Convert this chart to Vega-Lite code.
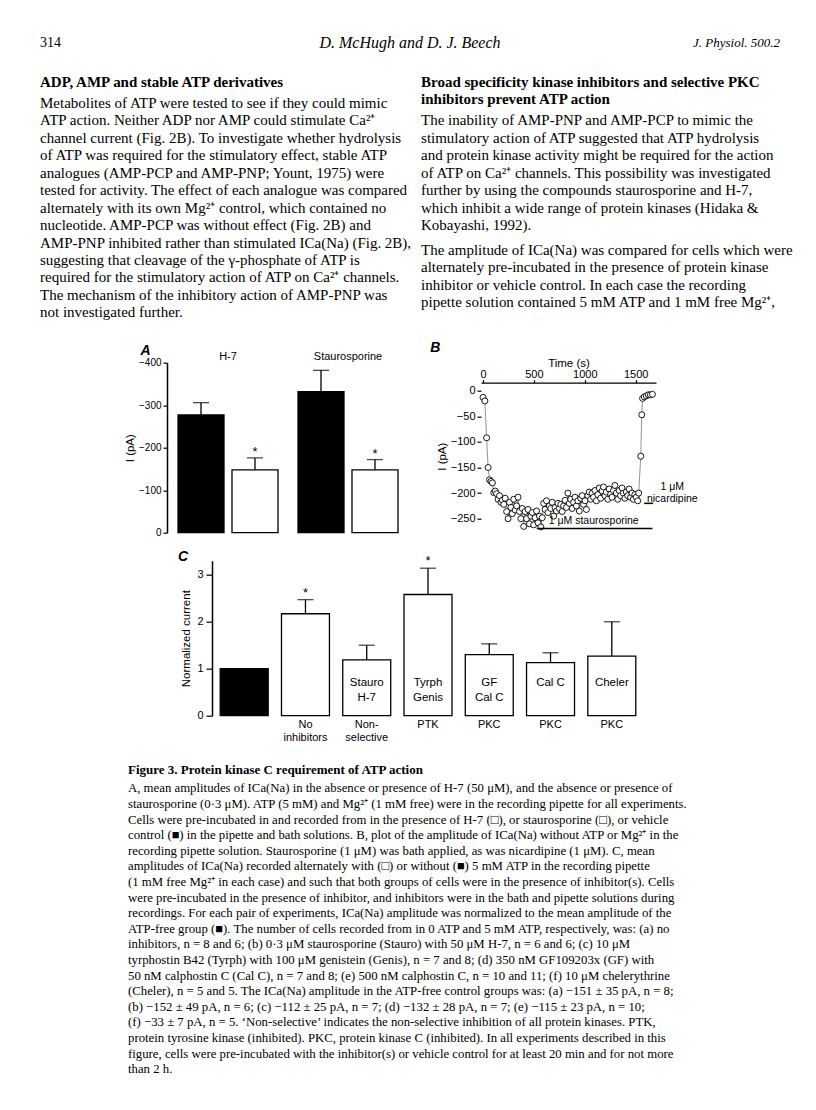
{
  "$schema": "https://vega.github.io/schema/vega-lite/v6.json",
  "background": "white",
  "padding": {"left": 40, "top": 32.7, "right": 10, "bottom": 10},
  "spacing": 0,
  "bounds": "full",
  "config": {
    "view": {"stroke": null},
    "font": "Liberation Sans",
    "axis": {"grid": false, "labelFont": "Liberation Sans", "titleFont": "Liberation Sans", "labelColor": "black", "titleColor": "black", "tickColor": "black", "domainColor": "black", "labelFontSize": 10.5, "titleFontSize": 11.5, "titleFontWeight": "normal", "tickWidth": 1.2, "domainWidth": 1.4},
    "title": {"font": "Liberation Sans", "fontSize": 14, "fontStyle": "italic", "fontWeight": "bold", "anchor": "start", "frame": "bounds", "color": "black"},
    "text": {"color": "black"}
  },
  "datasets": {
    "header": [
      {"part": "page", "text": "314"},
      {"part": "authors", "text": "D. McHugh and D. J. Beech"},
      {"part": "journal", "text": "J. Physiol. 500.2"}
    ],
    "topText": [
      {"col": "left", "line": 0, "kind": "heading", "para": 0, "text": "ADP, AMP and stable ATP derivatives"},
      {"col": "left", "line": 1, "kind": "body", "para": 1, "text": "Metabolites of ATP were tested to see if they could mimic"},
      {"col": "left", "line": 2, "kind": "body", "para": 1, "text": "ATP action. Neither ADP nor AMP could stimulate Ca²⁺"},
      {"col": "left", "line": 3, "kind": "body", "para": 1, "text": "channel current (Fig. 2B). To investigate whether hydrolysis"},
      {"col": "left", "line": 4, "kind": "body", "para": 1, "text": "of ATP was required for the stimulatory effect, stable ATP"},
      {"col": "left", "line": 5, "kind": "body", "para": 1, "text": "analogues (AMP-PCP and AMP-PNP; Yount, 1975) were"},
      {"col": "left", "line": 6, "kind": "body", "para": 1, "text": "tested for activity. The effect of each analogue was compared"},
      {"col": "left", "line": 7, "kind": "body", "para": 1, "text": "alternately with its own Mg²⁺ control, which contained no"},
      {"col": "left", "line": 8, "kind": "body", "para": 1, "text": "nucleotide. AMP-PCP was without effect (Fig. 2B) and"},
      {"col": "left", "line": 9, "kind": "body", "para": 1, "text": "AMP-PNP inhibited rather than stimulated ICa(Na) (Fig. 2B),"},
      {"col": "left", "line": 10, "kind": "body", "para": 1, "text": "suggesting that cleavage of the γ-phosphate of ATP is"},
      {"col": "left", "line": 11, "kind": "body", "para": 1, "text": "required for the stimulatory action of ATP on Ca²⁺ channels."},
      {"col": "left", "line": 12, "kind": "body", "para": 1, "text": "The mechanism of the inhibitory action of AMP-PNP was"},
      {"col": "left", "line": 13, "kind": "body", "para": 1, "text": "not investigated further."},
      {"col": "right", "line": 0, "kind": "heading", "para": 0, "text": "Broad specificity kinase inhibitors and selective PKC"},
      {"col": "right", "line": 1, "kind": "heading", "para": 0, "text": "inhibitors prevent ATP action"},
      {"col": "right", "line": 2, "kind": "body", "para": 1, "text": "The inability of AMP-PNP and AMP-PCP to mimic the"},
      {"col": "right", "line": 3, "kind": "body", "para": 1, "text": "stimulatory action of ATP suggested that ATP hydrolysis"},
      {"col": "right", "line": 4, "kind": "body", "para": 1, "text": "and protein kinase activity might be required for the action"},
      {"col": "right", "line": 5, "kind": "body", "para": 1, "text": "of ATP on Ca²⁺ channels. This possibility was investigated"},
      {"col": "right", "line": 6, "kind": "body", "para": 1, "text": "further by using the compounds staurosporine and H-7,"},
      {"col": "right", "line": 7, "kind": "body", "para": 1, "text": "which inhibit a wide range of protein kinases (Hidaka &"},
      {"col": "right", "line": 8, "kind": "body", "para": 1, "text": "Kobayashi, 1992)."},
      {"col": "right", "line": 10, "kind": "body", "para": 2, "text": "The amplitude of ICa(Na) was compared for cells which were"},
      {"col": "right", "line": 11, "kind": "body", "para": 2, "text": "alternately pre-incubated in the presence of protein kinase"},
      {"col": "right", "line": 12, "kind": "body", "para": 2, "text": "inhibitor or vehicle control. In each case the recording"},
      {"col": "right", "line": 13, "kind": "body", "para": 2, "text": "pipette solution contained 5 mM ATP and 1 mM free Mg²⁺,"}
    ],
    "panelA": [
      {"group": "H-7", "condition": "control", "mean": -277, "err": -306, "sig": ""},
      {"group": "H-7", "condition": "inhibitor", "mean": -148, "err": -176, "sig": "*"},
      {"group": "Staurosporine", "condition": "control", "mean": -332, "err": -382, "sig": ""},
      {"group": "Staurosporine", "condition": "inhibitor", "mean": -148, "err": -172, "sig": "*"}
    ],
    "trace": [
      {"t": 0, "I": -13}, {"t": 18, "I": -20}, {"t": 35, "I": -92}, {"t": 50, "I": -150},
      {"t": 64, "I": -174}, {"t": 78, "I": -177}, {"t": 92, "I": -180}, {"t": 106, "I": -199},
      {"t": 120, "I": -196}, {"t": 134, "I": -201}, {"t": 148, "I": -212}, {"t": 162, "I": -205},
      {"t": 176, "I": -218}, {"t": 190, "I": -214}, {"t": 204, "I": -222}, {"t": 218, "I": -210},
      {"t": 232, "I": -236}, {"t": 246, "I": -250}, {"t": 260, "I": -218}, {"t": 274, "I": -228},
      {"t": 288, "I": -240}, {"t": 302, "I": -212}, {"t": 316, "I": -233}, {"t": 330, "I": -225},
      {"t": 344, "I": -208}, {"t": 358, "I": -236}, {"t": 372, "I": -250}, {"t": 386, "I": -230},
      {"t": 400, "I": -265}, {"t": 414, "I": -236}, {"t": 428, "I": -250}, {"t": 442, "I": -232},
      {"t": 456, "I": -260}, {"t": 470, "I": -245}, {"t": 484, "I": -238}, {"t": 498, "I": -262},
      {"t": 512, "I": -248}, {"t": 526, "I": -235}, {"t": 540, "I": -258}, {"t": 554, "I": -245},
      {"t": 568, "I": -266}, {"t": 582, "I": -248}, {"t": 596, "I": -220}, {"t": 610, "I": -232},
      {"t": 624, "I": -215}, {"t": 638, "I": -238}, {"t": 652, "I": -225}, {"t": 666, "I": -230},
      {"t": 680, "I": -218}, {"t": 694, "I": -245}, {"t": 708, "I": -228}, {"t": 722, "I": -235},
      {"t": 736, "I": -220}, {"t": 750, "I": -230}, {"t": 764, "I": -222}, {"t": 778, "I": -236},
      {"t": 792, "I": -225}, {"t": 806, "I": -214}, {"t": 820, "I": -228}, {"t": 834, "I": -200},
      {"t": 848, "I": -220}, {"t": 862, "I": -212}, {"t": 876, "I": -230}, {"t": 890, "I": -218},
      {"t": 904, "I": -208}, {"t": 918, "I": -225}, {"t": 932, "I": -215}, {"t": 946, "I": -235},
      {"t": 960, "I": -210}, {"t": 974, "I": -205}, {"t": 988, "I": -222}, {"t": 1002, "I": -215},
      {"t": 1016, "I": -232}, {"t": 1030, "I": -205}, {"t": 1044, "I": -198}, {"t": 1058, "I": -212},
      {"t": 1072, "I": -200}, {"t": 1086, "I": -208}, {"t": 1100, "I": -195}, {"t": 1114, "I": -215},
      {"t": 1128, "I": -203}, {"t": 1142, "I": -190}, {"t": 1156, "I": -210}, {"t": 1170, "I": -196},
      {"t": 1184, "I": -188}, {"t": 1198, "I": -205}, {"t": 1212, "I": -198}, {"t": 1226, "I": -212},
      {"t": 1240, "I": -192}, {"t": 1254, "I": -202}, {"t": 1268, "I": -208}, {"t": 1282, "I": -195},
      {"t": 1296, "I": -185}, {"t": 1310, "I": -200}, {"t": 1324, "I": -212}, {"t": 1338, "I": -195},
      {"t": 1352, "I": -205}, {"t": 1366, "I": -190}, {"t": 1380, "I": -200}, {"t": 1394, "I": -210},
      {"t": 1408, "I": -198}, {"t": 1422, "I": -205}, {"t": 1436, "I": -192}, {"t": 1450, "I": -208},
      {"t": 1464, "I": -200}, {"t": 1478, "I": -212}, {"t": 1492, "I": -203}, {"t": 1506, "I": -208},
      {"t": 1520, "I": -215}, {"t": 1530, "I": -200}, {"t": 1550, "I": -128}, {"t": 1560, "I": -47},
      {"t": 1568, "I": -15}, {"t": 1585, "I": -12}, {"t": 1605, "I": -10}, {"t": 1625, "I": -8},
      {"t": 1645, "I": -8}, {"t": 1665, "I": -7}
    ],
    "appBars": [
      {"drug": "staurosporine", "t1": 528, "t2": 1665, "I": -269},
      {"drug": "nicardipine", "t1": 1583, "t2": 1672, "I": -220}
    ],
    "notesB": [
      {"label": "1 μM staurosporine", "t": 1088, "I": -254},
      {"label": "1 μM", "t": 1860, "I": -189},
      {"label": "nicardipine", "t": 1860, "I": -211}
    ],
    "panelC": [
      {"treatment": "Control", "atp": "0 ATP", "mean": 1.0, "err": null, "sig": "", "inside": "", "target": ""},
      {"treatment": "None", "atp": "5 mM ATP", "mean": 2.17, "err": 2.47, "sig": "*", "inside": "", "target": "No\ninhibitors"},
      {"treatment": "Stauro/H-7", "atp": "5 mM ATP", "mean": 1.19, "err": 1.5, "sig": "", "inside": "Stauro\nH-7", "target": "Non-\nselective"},
      {"treatment": "Tyrph/Genis", "atp": "5 mM ATP", "mean": 2.58, "err": 3.14, "sig": "*", "inside": "Tyrph\nGenis", "target": "PTK"},
      {"treatment": "GF/Cal C", "atp": "5 mM ATP", "mean": 1.3, "err": 1.53, "sig": "", "inside": "GF\nCal C", "target": "PKC"},
      {"treatment": "Cal C", "atp": "5 mM ATP", "mean": 1.13, "err": 1.34, "sig": "", "inside": "Cal C", "target": "PKC"},
      {"treatment": "Cheler", "atp": "5 mM ATP", "mean": 1.27, "err": 2.0, "sig": "", "inside": "Cheler", "target": "PKC"}
    ],
    "caption": [
      {"block": "caption", "line": 0, "kind": "heading", "text": "Figure 3. Protein kinase C requirement of ATP action"},
      {"block": "caption", "line": 1, "kind": "body", "text": "A, mean amplitudes of ICa(Na) in the absence or presence of H-7 (50 μM), and the absence or presence of"},
      {"block": "caption", "line": 2, "kind": "body", "text": "staurosporine (0·3 μM). ATP (5 mM) and Mg²⁺ (1 mM free) were in the recording pipette for all experiments."},
      {"block": "caption", "line": 3, "kind": "body", "text": "Cells were pre-incubated in and recorded from in the presence of H-7 (□), or staurosporine (□), or vehicle"},
      {"block": "caption", "line": 4, "kind": "body", "text": "control (■) in the pipette and bath solutions. B, plot of the amplitude of ICa(Na) without ATP or Mg²⁺ in the"},
      {"block": "caption", "line": 5, "kind": "body", "text": "recording pipette solution. Staurosporine (1 μM) was bath applied, as was nicardipine (1 μM). C, mean"},
      {"block": "caption", "line": 6, "kind": "body", "text": "amplitudes of ICa(Na) recorded alternately with (□) or without (■) 5 mM ATP in the recording pipette"},
      {"block": "caption", "line": 7, "kind": "body", "text": "(1 mM free Mg²⁺ in each case) and such that both groups of cells were in the presence of inhibitor(s). Cells"},
      {"block": "caption", "line": 8, "kind": "body", "text": "were pre-incubated in the presence of inhibitor, and inhibitors were in the bath and pipette solutions during"},
      {"block": "caption", "line": 9, "kind": "body", "text": "recordings. For each pair of experiments, ICa(Na) amplitude was normalized to the mean amplitude of the"},
      {"block": "caption", "line": 10, "kind": "body", "text": "ATP-free group (■). The number of cells recorded from in 0 ATP and 5 mM ATP, respectively, was: (a) no"},
      {"block": "caption", "line": 11, "kind": "body", "text": "inhibitors, n = 8 and 6; (b) 0·3 μM staurosporine (Stauro) with 50 μM H-7, n = 6 and 6; (c) 10 μM"},
      {"block": "caption", "line": 12, "kind": "body", "text": "tyrphostin B42 (Tyrph) with 100 μM genistein (Genis), n = 7 and 8; (d) 350 nM GF109203x (GF) with"},
      {"block": "caption", "line": 13, "kind": "body", "text": "50 nM calphostin C (Cal C), n = 7 and 8; (e) 500 nM calphostin C, n = 10 and 11; (f) 10 μM chelerythrine"},
      {"block": "caption", "line": 14, "kind": "body", "text": "(Cheler), n = 5 and 5. The ICa(Na) amplitude in the ATP-free control groups was: (a) −151 ± 35 pA, n = 8;"},
      {"block": "caption", "line": 15, "kind": "body", "text": "(b) −152 ± 49 pA, n = 6; (c) −112 ± 25 pA, n = 7; (d) −132 ± 28 pA, n = 7; (e) −115 ± 23 pA, n = 10;"},
      {"block": "caption", "line": 16, "kind": "body", "text": "(f) −33 ± 7 pA, n = 5. ‘Non-selective’ indicates the non-selective inhibition of all protein kinases. PTK,"},
      {"block": "caption", "line": 17, "kind": "body", "text": "protein tyrosine kinase (inhibited). PKC, protein kinase C (inhibited). In all experiments described in this"},
      {"block": "caption", "line": 18, "kind": "body", "text": "figure, cells were pre-incubated with the inhibitor(s) or vehicle control for at least 20 min and for not more"},
      {"block": "caption", "line": 19, "kind": "body", "text": "than 2 h."}
    ]
  },
  "vconcat": [
    {
      "width": 740, "height": 20,
      "data": {"name": "header"},
      "encoding": {
        "x": {"field": "part", "type": "nominal", "scale": {"type": "point", "domain": ["page", "authors", "journal"], "padding": 0}, "axis": null},
        "text": {"field": "text"}
      },
      "layer": [
        {"transform": [{"filter": "datum.part === 'page'"}], "mark": {"type": "text", "align": "left", "font": "Liberation Serif", "fontSize": 14}},
        {"transform": [{"filter": "datum.part === 'authors'"}], "mark": {"type": "text", "align": "center", "font": "Liberation Serif", "fontSize": 16, "fontStyle": "italic"}},
        {"transform": [{"filter": "datum.part === 'journal'"}], "mark": {"type": "text", "align": "right", "font": "Liberation Serif", "fontSize": 13, "fontStyle": "italic"}}
      ]
    },
    {
      "width": 740, "height": 288,
      "data": {"name": "topText"},
      "encoding": {
        "x": {"field": "col", "type": "nominal", "bandPosition": 0, "scale": {"type": "band", "domain": ["left", "right"], "paddingInner": 0.058, "paddingOuter": 0}, "axis": null},
        "y": {"field": "line", "type": "quantitative", "scale": {"domain": [-1.8865, 14.627], "reverse": true, "nice": false, "zero": false}, "axis": null},
        "text": {"field": "text"}
      },
      "layer": [
        {"transform": [{"filter": "datum.kind === 'heading'"}], "mark": {"type": "text", "align": "left", "baseline": "middle", "font": "Liberation Serif", "fontSize": 15, "fontWeight": "bold", "dy": -4}},
        {"transform": [{"filter": "datum.kind === 'body' && datum.para === 1"}], "mark": {"type": "text", "align": "left", "baseline": "middle", "font": "Liberation Serif", "fontSize": 15}},
        {"transform": [{"filter": "datum.para === 2"}], "mark": {"type": "text", "align": "left", "baseline": "middle", "font": "Liberation Serif", "fontSize": 15, "dy": -10}}
      ]
    },
    {
      "hconcat": [
        {"width": 127, "height": 1, "data": {"values": []}, "mark": "point"},
        {
          "width": 242, "height": 170,
          "title": {"text": "A", "dx": 16, "offset": -7},
          "data": {"name": "panelA"},
          "encoding": {
            "x": {"field": "group", "type": "nominal", "scale": {"domain": ["H-7", "Staurosporine"], "paddingInner": 0.1667, "paddingOuter": 0.0917}, "axis": {"orient": "top", "title": null, "domain": false, "ticks": false, "labelAngle": 0, "labelPadding": 1, "labelFontSize": 11}},
            "xOffset": {"field": "condition", "type": "nominal", "scale": {"domain": ["control", "inhibitor"], "paddingInner": 0.148, "paddingOuter": 0}}
          },
          "layer": [
            {
              "mark": {"type": "bar", "stroke": "black", "strokeWidth": 1.3},
              "encoding": {
                "y": {"field": "mean", "type": "quantitative", "scale": {"domain": [-400, 0], "reverse": true, "nice": false}, "axis": {"values": [0, -100, -200, -300, -400], "title": "I (pA)", "tickSize": 4, "labelPadding": 2, "titlePadding": 3, "labelFontSize": 10, "domainWidth": 1.5}},
                "color": {"field": "condition", "type": "nominal", "scale": {"domain": ["control", "inhibitor"], "range": ["black", "white"]}, "legend": null}
              }
            },
            {"mark": {"type": "rule", "color": "black", "strokeWidth": 1.3}, "encoding": {"y": {"field": "mean", "type": "quantitative"}, "y2": {"field": "err"}}},
            {"mark": {"type": "tick", "color": "black", "thickness": 1.3, "size": 16}, "encoding": {"y": {"field": "err", "type": "quantitative"}}},
            {"mark": {"type": "text", "fontSize": 13, "baseline": "middle", "dy": -6}, "encoding": {"y": {"field": "err", "type": "quantitative"}, "text": {"field": "sig"}}}
          ]
        },
        {"width": 72, "height": 1, "data": {"values": []}, "mark": "point"},
        {
          "width": 175, "height": 187,
          "title": {"text": "B", "dx": -6, "offset": 3},
          "encoding": {
            "x": {"field": "t", "type": "quantitative", "scale": {"domain": [-20, 1700], "nice": false, "zero": false}, "axis": {"orient": "top", "values": [0, 500, 1000, 1500], "format": "d", "title": "Time (s)", "offset": -20, "tickSize": 3, "labelPadding": 0, "titlePadding": 0, "labelFontSize": 11, "domainWidth": 1.2}},
            "y": {"field": "I", "type": "quantitative", "scale": {"domain": [-310.5, 54.7], "nice": false, "zero": false}, "axis": {"values": [0, -50, -100, -150, -200, -250], "domain": false, "tickSize": 4, "labelPadding": 2, "labelFontSize": 11, "title": "I (pA)", "titlePadding": 3}}
          },
          "layer": [
            {"data": {"values": [{}]}, "mark": {"type": "rule", "strokeDash": [2, 3], "strokeWidth": 1.2, "color": "black"}, "encoding": {"x": {"datum": 0}, "x2": {"datum": 1700}, "y": {"datum": 0}}},
            {"data": {"values": [{}]}, "mark": {"type": "rule", "strokeWidth": 1.8, "color": "black"}, "encoding": {"x": {"datum": -20}, "y": {"datum": 4}, "y2": {"datum": -273}}},
            {"data": {"name": "trace"}, "mark": {"type": "line", "color": "#666666", "strokeWidth": 0.7}},
            {"data": {"name": "trace"}, "mark": {"type": "point", "shape": "circle", "filled": true, "fill": "white", "stroke": "black", "strokeWidth": 0.9, "size": 36, "opacity": 1}},
            {"data": {"name": "appBars"}, "mark": {"type": "rule", "color": "black", "strokeWidth": 1.5}, "encoding": {"x": {"field": "t1", "type": "quantitative"}, "x2": {"field": "t2"}, "y": {"field": "I", "type": "quantitative"}}},
            {"data": {"name": "notesB"}, "mark": {"type": "text", "align": "center", "baseline": "middle", "fontSize": 10.5}, "encoding": {"text": {"field": "label"}}}
          ]
        }
      ],
      "spacing": 0,
      "bounds": "flush"
    },
    {
      "hconcat": [
        {"width": 172, "height": 1, "data": {"values": []}, "mark": "point"},
        {
          "width": 432, "height": 155,
          "title": {"text": "C", "dx": -3, "offset": -9},
          "data": {"name": "panelC"},
          "encoding": {
            "x": {"field": "treatment", "type": "nominal", "scale": {"domain": ["Control", "None", "Stauro/H-7", "Tyrph/Genis", "GF/Cal C", "Cal C", "Cheler"], "paddingInner": 0.217, "paddingOuter": 0.134}, "axis": null}
          },
          "layer": [
            {
              "mark": {"type": "bar", "stroke": "black", "strokeWidth": 1.3},
              "encoding": {
                "y": {"field": "mean", "type": "quantitative", "scale": {"domain": [0, 3.3], "nice": false}, "axis": {"values": [0, 1, 2, 3], "title": "Normalized current", "tickSize": 6, "labelPadding": 3, "titlePadding": 5, "labelFontSize": 11, "domainWidth": 1.5}},
                "color": {"field": "atp", "type": "nominal", "scale": {"domain": ["0 ATP", "5 mM ATP"], "range": ["black", "white"]}, "legend": null}
              }
            },
            {"transform": [{"filter": "datum.err != null"}], "mark": {"type": "rule", "color": "black", "strokeWidth": 1.3}, "encoding": {"y": {"field": "mean", "type": "quantitative"}, "y2": {"field": "err"}}},
            {"transform": [{"filter": "datum.err != null"}], "mark": {"type": "tick", "color": "black", "thickness": 1.3, "size": 16}, "encoding": {"y": {"field": "err", "type": "quantitative"}}},
            {"transform": [{"filter": "datum.err != null"}], "mark": {"type": "text", "fontSize": 13, "baseline": "middle", "dy": -7}, "encoding": {"y": {"field": "err", "type": "quantitative"}, "text": {"field": "sig"}}},
            {"mark": {"type": "text", "fontSize": 11.5, "baseline": "top", "lineBreak": "\n", "lineHeight": 15}, "encoding": {"y": {"datum": 0.816}, "text": {"field": "inside"}}},
            {"mark": {"type": "text", "fontSize": 11, "baseline": "top", "dy": 3, "lineBreak": "\n", "lineHeight": 13}, "encoding": {"y": {"datum": 0}, "text": {"field": "target"}}}
          ]
        }
      ],
      "spacing": 0,
      "bounds": "flush"
    },
    {
      "width": 740, "height": 340,
      "data": {"name": "caption"},
      "encoding": {
        "x": {"field": "block", "type": "nominal", "bandPosition": 0, "scale": {"type": "band", "domain": ["caption"], "paddingInner": 0, "paddingOuter": 0.156}, "axis": null},
        "y": {"field": "line", "type": "quantitative", "scale": {"domain": [-1.929, 19.866], "reverse": true, "nice": false, "zero": false}, "axis": null},
        "text": {"field": "text"}
      },
      "layer": [
        {"transform": [{"filter": "datum.kind === 'heading'"}], "mark": {"type": "text", "align": "left", "baseline": "middle", "font": "Liberation Serif", "fontSize": 13, "fontWeight": "bold", "dy": -3}},
        {"transform": [{"filter": "datum.kind === 'body'"}], "mark": {"type": "text", "align": "left", "baseline": "middle", "font": "Liberation Serif", "fontSize": 12.8}}
      ]
    }
  ]
}
